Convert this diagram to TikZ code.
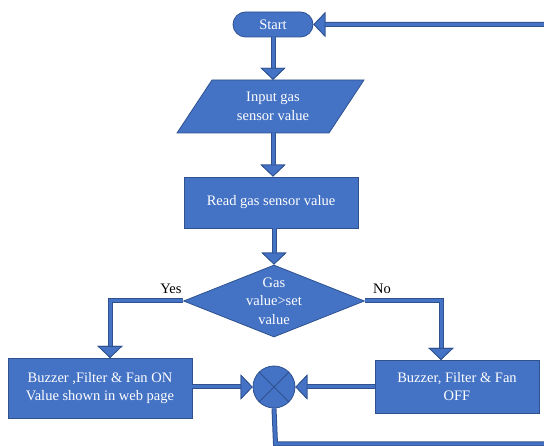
\documentclass[tikz,border=0pt]{standalone}
\usepackage{fontspec}
\setmainfont{Liberation Serif}
\usetikzlibrary{arrows.meta,shapes.geometric,calc}
\definecolor{fcblue}{HTML}{4472C4}
\definecolor{fcdark}{HTML}{2F528F}
\tikzset{
  every node/.style={font=\fontsize{14.5}{18.5}\selectfont},
  box/.style={draw=fcdark, fill=fcblue, line width=0.8pt, text=white, align=center, inner sep=0pt},
  conn/.style={draw=fcblue, line width=3pt, line join=miter,
     preaction={draw=fcdark, line width=5pt},
     -{Triangle[width=25pt,length=12pt,line width=0.8pt,color=fcdark,fill=fcblue]}},
  lbl/.style={text=black}
}
\begin{document}
\begin{tikzpicture}[x=1pt,y=-1pt]
\useasboundingbox (0,0) rectangle (544,446);
% nodes
\node[box, rounded corners=12.5pt, minimum width=80pt, minimum height=25pt] (start) at (273,24.5) {Start};
\fill[fcblue, draw=fcdark, line width=0.8pt] (212,80) -- (364,80) -- (329,133) -- (177,133) -- cycle;
\node[text=white, align=center, minimum height=53pt, inner sep=0pt] (input) at (273,106.5) {Input gas\\sensor value};
\node[box, minimum width=174pt, minimum height=51pt] (read) at (271,202.5) {Read gas sensor value};
\node[box, diamond, aspect=2.5, minimum width=181pt, minimum height=72pt] (dec) at (274,301) {Gas\\value>set\\value};
\node[box, minimum width=184pt, minimum height=60pt] (lbox) at (100,388) {Buzzer ,Filter \& Fan ON\\Value shown in web page};
\node[box, minimum width=164pt, minimum height=53pt] (rbox) at (457,386.5) {Buzzer, Filter \& Fan\\OFF};
\node[box, circle, minimum size=42pt] (sum) at (274,387) {};
\draw[fcdark, line width=0.8pt] (sum.north west) -- (sum.south east) (sum.north east) -- (sum.south west);
\node[lbl] (yes) at (171,289) {Yes};
\node[lbl] (no) at (382,289) {No};
\coordinate (yesdrop) at (110,358);
\coordinate (nodrop) at (441,360);
\coordinate (bot) at (275.5,444);
\coordinate (farright) at (560,444);
\coordinate (fartop) at (560,24.5);
% connectors
\draw[conn] (start.south) -- (start.south |- input.north);
\draw[conn] (input.south) -- (input.south |- read.north);
\draw[conn] (read.south -| dec.north) -- (dec.north);
\draw[conn] (dec.west) -| (yesdrop);
\draw[conn] (dec.east) -| (nodrop);
\draw[conn] (lbox.east |- sum.west) -- (sum.west);
\draw[conn] (rbox.west |- sum.east) -- (sum.east);
\draw[conn] (sum.south) -- (bot) -- (farright) -- (fartop) -- (start.east);
\end{tikzpicture}
\end{document}
